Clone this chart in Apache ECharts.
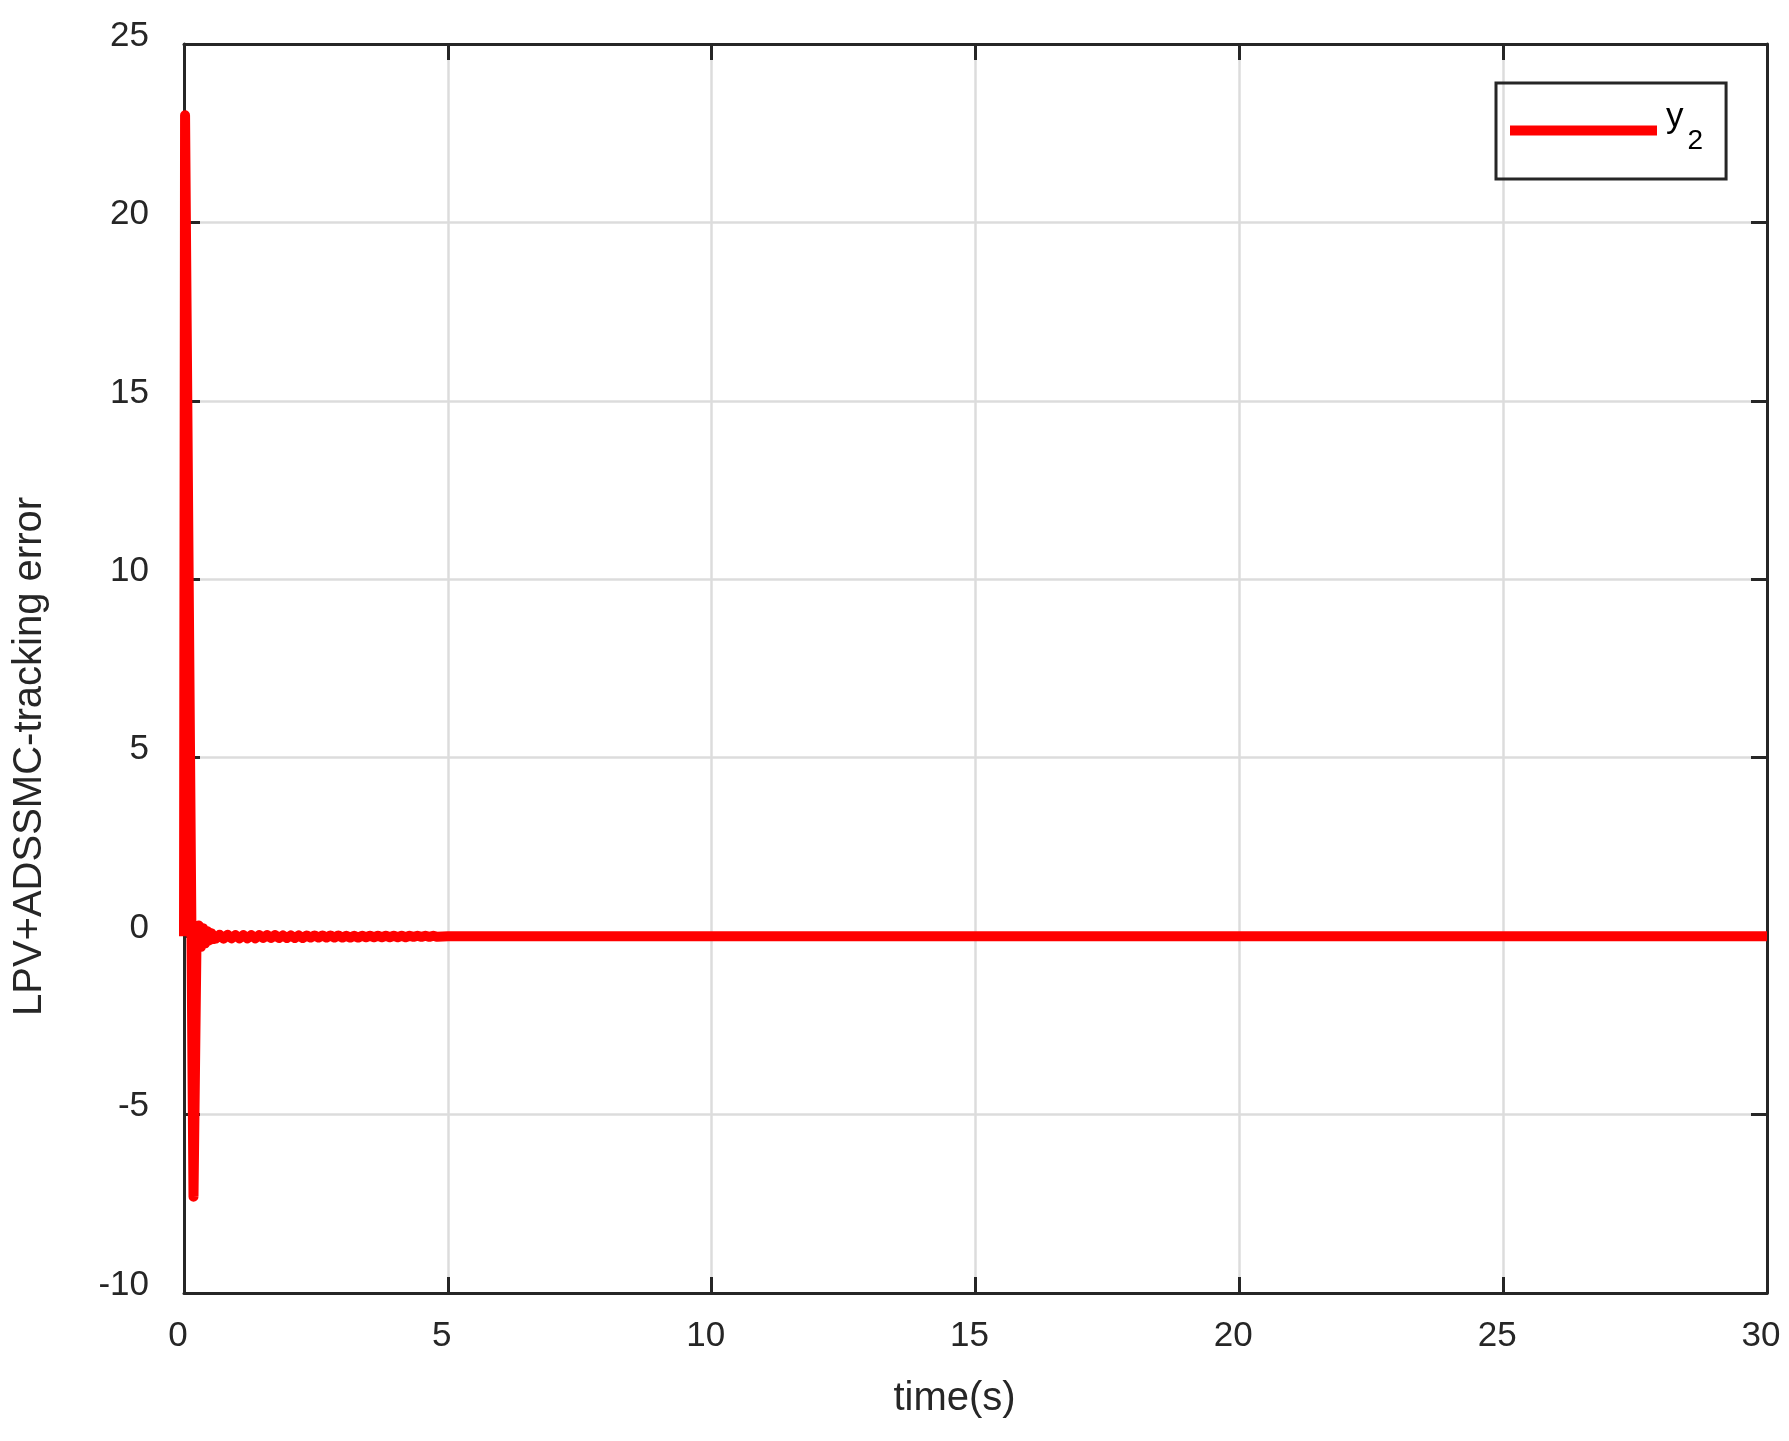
<!DOCTYPE html>
<html>
<head>
<meta charset="utf-8">
<script src="https://cdn.jsdelivr.net/npm/echarts@6/dist/echarts.min.js"></script>
<style>
  html, body { margin: 0; padding: 0; background: #fff; }
  #main { width: 1789px; height: 1441px; }
</style>
</head>
<body>
<div id="main"></div>
<script>
// time (s) and tracking error of y2
var timeS = [0, 0.02, 0.18, 0.24, 0.28, 0.32, 0.36, 0.40, 0.44, 0.48, 0.52, 0.56,
	0.60, 0.675, 0.75, 0.825, 0.90, 0.975, 1.05, 1.125, 1.20, 1.275,
	1.35, 1.425, 1.50, 1.575, 1.65, 1.725, 1.80, 1.875, 1.95, 2.025,
	2.10, 2.175, 2.25, 2.325, 2.40, 2.475, 2.55, 2.625, 2.70, 2.775,
	2.85, 2.925, 3.00, 3.075, 3.15, 3.225, 3.30, 3.375, 3.45, 3.525,
	3.60, 3.675, 3.75, 3.825, 3.90, 3.975, 4.05, 4.125, 4.20, 4.275,
	4.35, 4.425, 4.50, 4.575, 4.65, 4.725, 4.80,
	5.0, 30];
var errY2 = [0, 23.0, -7.3, 0.25, 0.3, -0.3, 0.22, -0.2, 0.14, -0.12, 0.08, -0.08,
	-0.07, 0.04, -0.07, 0.04, -0.06, 0.03, -0.06, 0.03, -0.06, 0.03,
	-0.06, 0.03, -0.05, 0.03, -0.05, 0.03, -0.05, 0.02, -0.05, 0.02,
	-0.05, 0.02, -0.05, 0.02, -0.04, 0.02, -0.04, 0.02, -0.04, 0.02,
	-0.04, 0.02, -0.04, 0.01, -0.04, 0.01, -0.04, 0.01, -0.03, 0.01,
	-0.03, 0.01, -0.03, 0.01, -0.03, 0.01, -0.03, 0.01, -0.03, 0.01,
	-0.02, 0.01, -0.02, 0.01, -0.02, 0.01, -0.02,
	0, 0];

var font = "'Liberation Sans', Arial, sans-serif";
var ink = '#262626';

var pts = [];
for (var i = 0; i < timeS.length; i++) {
	pts.push([timeS[i], errY2[i]]);
}

function boxAxis(pos, idx) {
	return {
		type: 'value', position: pos, min: idx == 'x' ? 0 : -10, max: idx == 'x' ? 30 : 25, interval: 5,
		axisLine: { show: true, onZero: false, lineStyle: { color: ink, width: 3 } },
		axisTick: { show: true, inside: true, length: 16, lineStyle: { color: ink, width: 3 } },
		axisLabel: { show: false },
		splitLine: { show: false }
	};
}

var myChart = echarts.init(document.getElementById('main'));
var option = {
	backgroundColor: '#fff',
	animation: false,
	grid: { left: 184, right: 22, top: 44, bottom: 148 },
	legend: {
		left: 1496, top: 83,
		orient: 'vertical',
		icon: 'rect',
		itemWidth: 147, itemHeight: 10,
		padding: [17, 23, 18, 14],
		borderColor: ink, borderWidth: 3,
		data: ['y2'],
		formatter: function () { return '{y|y}{s|2}'; },
		textStyle: {
			fontFamily: font, color: '#000',
			rich: {
				y: { fontFamily: font, fontSize: 35, lineHeight: 35, color: '#000', padding: [0, 4, 26, 4] },
				s: { fontFamily: font, fontSize: 28, lineHeight: 28, color: '#000', padding: [21, 0, 0, 0] }
			}
		}
	},
	xAxis: [
		{
			type: 'value', min: 0, max: 30, interval: 5,
			name: 'time(s)', nameLocation: 'middle', nameGap: 86,
			nameTextStyle: { fontFamily: font, fontSize: 40, color: ink, padding: [0, 42, 0, 0] },
			axisLine: { show: true, onZero: false, lineStyle: { color: ink, width: 3 } },
			axisTick: { show: true, inside: true, length: 16, lineStyle: { color: ink, width: 3 } },
			axisLabel: { fontFamily: font, fontSize: 35, color: ink, margin: 26, padding: [0, 12, 0, 0] },
			splitLine: { show: true, lineStyle: { color: '#dcdcdc', width: 2.5 } }
		},
		boxAxis('top', 'x')
	],
	yAxis: [
		{
			type: 'value', min: -10, max: 25, interval: 5,
			name: 'LPV+ADSSMC-tracking error', nameLocation: 'middle', nameGap: 134,
			nameTextStyle: { fontFamily: font, fontSize: 40, color: ink, padding: [0, 176, 0, 0] },
			axisLine: { show: true, onZero: false, lineStyle: { color: ink, width: 3 } },
			axisTick: { show: true, inside: true, length: 16, lineStyle: { color: ink, width: 3 } },
			axisLabel: { fontFamily: font, fontSize: 35, color: ink, margin: 35, verticalAlign: 'bottom', lineHeight: 16 },
			splitLine: { show: true, lineStyle: { color: '#dcdcdc', width: 2.5 } }
		},
		boxAxis('right', 'y')
	],
	series: [
		{
			name: 'y2',
			type: 'line',
			data: pts,
			showSymbol: false,
			clip: false,
			color: '#ff0000',
			lineStyle: { color: '#ff0000', width: 10, cap: 'butt', join: 'round' }
		}
	]
};
myChart.setOption(option);
</script>
</body>
</html>
